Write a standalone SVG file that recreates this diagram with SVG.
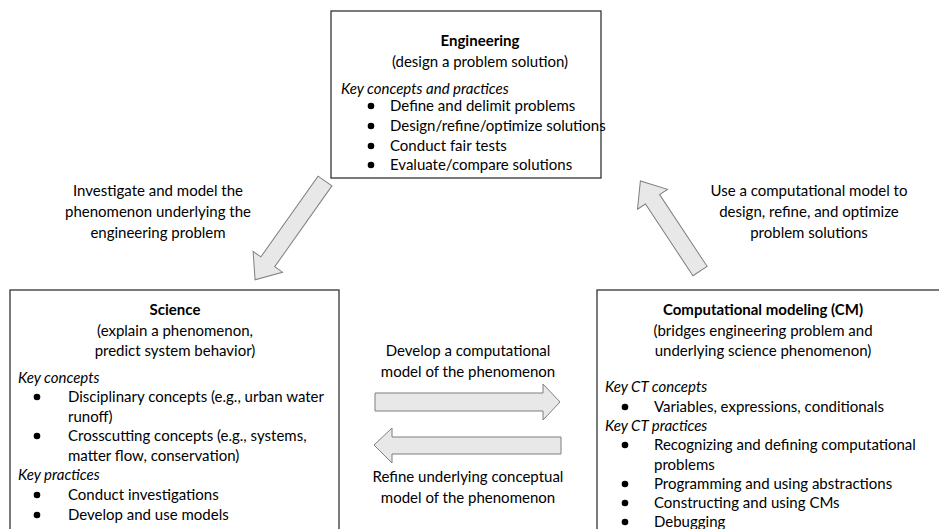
<svg xmlns="http://www.w3.org/2000/svg" width="939" height="529" viewBox="0 0 939 529">
<style>
text{font-family:Lato,"Open Sans","Liberation Sans",sans-serif;font-size:15px;fill:#000}
.c{text-anchor:middle}
.b{font-weight:bold}
.i{font-style:italic}
.box{fill:#fff;stroke:#333;stroke-width:1.3}
.arr{fill:#e8e8e8;stroke:#7f7f7f;stroke-width:1}
.dot{fill:#000}
</style>
<defs>
<polygon id="dl" class="arr" points="0,-8.5 99,-8.5 99,-18 121,0 99,18 99,8.5 0,8.5"/>
<polygon id="dr" class="arr" points="0,-8.5 86,-8.5 86,-18 108,0 86,18 86,8.5 0,8.5"/>
</defs>
<rect width="939" height="529" fill="#fff"/>
<g id="connectors">
<use href="#dl" transform="translate(325,181) rotate(125.3)"/>
<use href="#dr" transform="translate(700,271) rotate(-123.5)"/>
<polygon class="arr" points="375,393 543,393 543,384 560,402 543,420 543,411 375,411"/>
<polygon class="arr" points="561,437 392,437 392,428 374,445 392,463 392,454 561,454"/>
<g id="lbl-eng-sci">
<text class="c" x="158" y="196">Investigate and model the</text>
<text class="c" x="158" y="217">phenomenon underlying the</text>
<text class="c" x="158" y="238">engineering problem</text>
</g>
<g id="lbl-cm-eng">
<text class="c" x="809" y="196">Use a computational model to</text>
<text class="c" x="809" y="217">design, refine, and optimize</text>
<text class="c" x="809" y="238">problem solutions</text>
</g>
<g id="lbl-sci-cm">
<text class="c" x="468" y="356">Develop a computational</text>
<text class="c" x="468" y="377">model of the phenomenon</text>
</g>
<g id="lbl-cm-sci">
<text class="c" x="468" y="482">Refine underlying conceptual</text>
<text class="c" x="468" y="503">model of the phenomenon</text>
</g>
</g>
<g id="engineering">
<rect class="box" x="331" y="11" width="270" height="167"/>
<text class="c b" x="480" y="46">Engineering</text>
<text class="c" x="480" y="67">(design a problem solution)</text>
<text class="i" x="341" y="94">Key concepts and practices</text>
<circle class="dot" cx="371" cy="106" r="3.3"/><text x="390" y="111">Define and delimit problems</text>
<circle class="dot" cx="371" cy="126" r="3.3"/><text x="390" y="131">Design/refine/optimize solutions</text>
<circle class="dot" cx="371" cy="146" r="3.3"/><text x="390" y="151">Conduct fair tests</text>
<circle class="dot" cx="371" cy="165" r="3.3"/><text x="390" y="170">Evaluate/compare solutions</text>
</g>
<g id="science">
<rect class="box" x="10" y="290" width="329" height="250"/>
<text class="c b" x="175" y="315">Science</text>
<text class="c" x="175" y="336">(explain a phenomenon,</text>
<text class="c" x="175" y="356">predict system behavior)</text>
<text class="i" x="18" y="383">Key concepts</text>
<circle class="dot" cx="37" cy="397" r="3.3"/><text x="68" y="402">Disciplinary concepts (e.g., urban water</text>
<text x="68" y="422">runoff)</text>
<circle class="dot" cx="37" cy="436" r="3.3"/><text x="68" y="441">Crosscutting concepts (e.g., systems,</text>
<text x="68" y="461">matter flow, conservation)</text>
<text class="i" x="18" y="480">Key practices</text>
<circle class="dot" cx="37" cy="495" r="3.3"/><text x="68" y="500">Conduct investigations</text>
<circle class="dot" cx="37" cy="515" r="3.3"/><text x="68" y="520">Develop and use models</text>
</g>
<g id="computational-modeling">
<rect class="box" x="597" y="290" width="360" height="250"/>
<text class="c b" x="763" y="315">Computational modeling (CM)</text>
<text class="c" x="763" y="336">(bridges engineering problem and</text>
<text class="c" x="763" y="356">underlying science phenomenon)</text>
<text class="i" x="605" y="392">Key CT concepts</text>
<circle class="dot" cx="625" cy="407" r="3.3"/><text x="654" y="412">Variables, expressions, conditionals</text>
<text class="i" x="605" y="431">Key CT practices</text>
<circle class="dot" cx="625" cy="445" r="3.3"/><text x="654" y="450">Recognizing and defining computational</text>
<text x="654" y="470">problems</text>
<circle class="dot" cx="625" cy="484" r="3.3"/><text x="654" y="489">Programming and using abstractions</text>
<circle class="dot" cx="625" cy="503" r="3.3"/><text x="654" y="508">Constructing and using CMs</text>
<circle class="dot" cx="625" cy="522" r="3.3"/><text x="654" y="527">Debugging</text>
</g>
</svg>
